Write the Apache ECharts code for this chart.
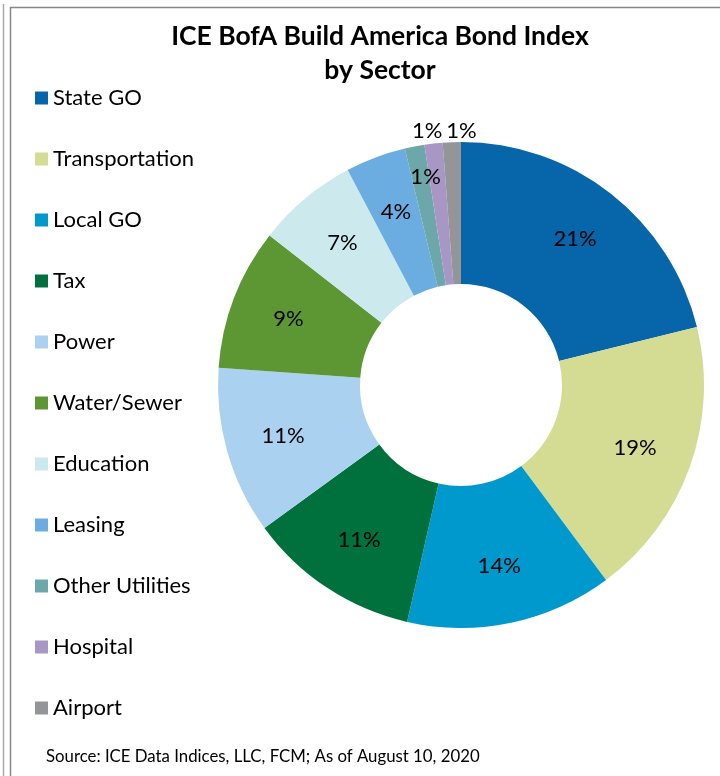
<!DOCTYPE html>
<html>
<head>
<meta charset="utf-8">
<script src="https://cdn.jsdelivr.net/npm/echarts@6/dist/echarts.min.js"></script>
<style>
html,body{margin:0;padding:0;background:#fff;}
#c{width:720px;height:776px;}
</style>
</head>
<body>
<div id="c"></div>
<script>
const titleText = 'ICE BofA Build America Bond Index\nby Sector';
const sourceText = 'Source: ICE Data Indices, LLC, FCM; As of August 10, 2020';
const categories = ['State GO','Transportation','Local GO','Tax','Power','Water/Sewer','Education','Leasing','Other Utilities','Hospital','Airport'];
const values = [21.1, 18.6, 13.7, 11.4, 11.1, 9.4, 6.7, 4.0, 1.3, 1.2, 1.2];
const colors = ['#0765A9','#D4DB93','#0099CE','#00703C','#AAD2F0','#5C9733','#CCE9EE','#6BADE0','#6CA8A9','#A897C4','#939598'];

const chart = echarts.init(document.getElementById('c'), null, {renderer:'canvas'});
const FONT = 'Lato';
const CX = 461, CY = 385;

const labelShift = {8:[-2,-36], 9:[-14,-80], 10:[7,-79]};

chart.setOption({
  animation:false,
  color: colors,
  title:{
    text:titleText,
    left:375, top:14, textAlign:'center', padding:5,
    textStyle:{fontFamily:FONT,fontWeight:'bold',fontSize:26.5,lineHeight:34,color:'#000'}
  },
  legend:{
    orient:'vertical', left:35, top:87, padding:0,
    itemWidth:13, itemHeight:13, itemGap:39,
    icon:'rect',
    data:categories,
    selectedMode:false,
    textStyle:{fontFamily:FONT,fontSize:22,lineHeight:22,color:'#000'}
  },
  graphic:[
    {type:'line',shape:{x1:3.5,y1:4,x2:3.5,y2:776},style:{stroke:'#aaa',lineWidth:1.5}},
    {type:'line',shape:{x1:10.5,y1:7,x2:10.5,y2:776},style:{stroke:'#888',lineWidth:1.5}},
    {type:'line',shape:{x1:10,y1:7.5,x2:720,y2:7.5},style:{stroke:'#888',lineWidth:1.5}},
    {type:'text',left:46,top:748,style:{text:sourceText,font:'16.8px Lato',fill:'#000'}}
  ],
  series:[{
    type:'pie',
    center:[CX,CY],
    radius:[101,243],
    startAngle:90,
    clockwise:true,
    avoidLabelOverlap:false,
    itemStyle:{borderWidth:0},
    label:{
      show:true, position:'inside',
      formatter:p=>Math.round(p.value)+'%',
      fontFamily:FONT, fontSize:22, color:'#000'
    },
    labelLine:{show:false},
    emphasis:{disabled:true},
    labelLayout:function(p){
      const s = labelShift[p.dataIndex];
      if (s) return {dx:s[0], dy:s[1]};
      const r = p.labelRect;
      const x = r.x + r.width/2 - CX, y = r.y + r.height/2 - CY;
      const d = Math.sqrt(x*x+y*y) || 1;
      return {dx:10*x/d, dy:10*y/d};
    },
    data:categories.map((n,i)=>({name:n,value:values[i]}))
  }]
});
</script>
</body>
</html>
